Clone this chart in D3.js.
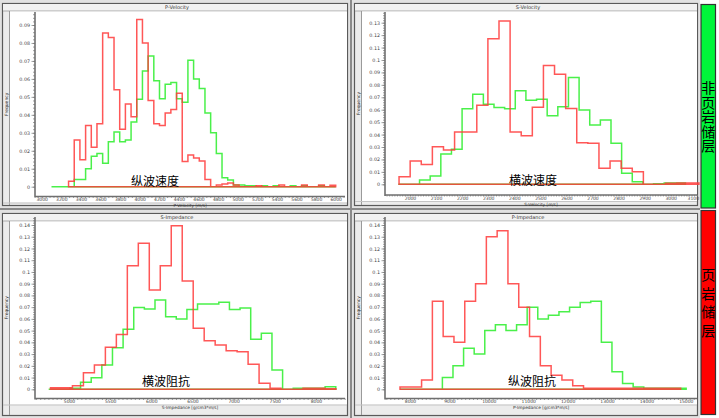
<!DOCTYPE html>
<html><head><meta charset="utf-8">
<script src="https://cdn.jsdelivr.net/npm/d3@7/dist/d3.min.js"></script>
<style>body{margin:0;background:#fff;}svg{display:block;}</style>
</head><body>
<svg id="chart" width="719" height="418"></svg>
<script>
// ---------------- DATA ----------------
// P-Velocity (纵波速度)
const pvelXTicks = [3000,3200,3400,3600,3800,4000,4200,4400,4600,4800,5000,5200,5400,5600,5800,6000];
const pvelYTicks = [0,0.01,0.02,0.03,0.04,0.05,0.06,0.07,0.08,0.09];
const pvelNonStart = 3100, pvelNonWidth = 58;
const pvelNon = [0,0,0,0,0.004,0.004,0.010,0.017,0.0185,0.013,0.025,0.0305,0.025,0.026,0.036,0.0487,0.0644,0.0728,0.059,0.049,0.057,0.058,0.049,0.047,0.0704,0.060,0.0547,0.041,0.030,0.0185,0.005,0.0037,0.001,0.001,0.0005,0.0005,0,0.0005,0,0.0005,0,0,0.0005,0,0.0005,0,0,0.0005,0,0];
const pvelShaleStart = 3274, pvelShaleWidth = 58;
const pvelShale = [0.003,0.026,0.015,0.034,0.022,0.035,0.0855,0.083,0.054,0.032,0.046,0.039,0.093,0.080,0.048,0.035,0.034,0.041,0.043,0.052,0.014,0.0176,0.016,0.0143,0.004,0,0.001,0.0015,0.002,0.001,0,0,0,0.0005,0,0,0,0.001,0,0,0,0.001,0,0,0.001,0,0.0008];

// S-Velocity (横波速度)
const svelXTicks = [2000,2100,2200,2300,2400,2500,2600,2700,2800,2900,3000,3100];
const svelYTicks = [0,0.01,0.02,0.03,0.04,0.05,0.06,0.07,0.08,0.09,0.1,0.11,0.12,0.13];
const svelNonStart = 1955, svelNonWidth = 40.8;
const svelNon = [0,0,0.0035,0.0067,0.0244,0.0282,0.0607,0.0724,0.0644,0.0617,0.0607,0.0753,0.0676,0.0684,0.0552,0.0623,0.086,0.0598,0.0477,0.0517,0.033,0.0089,0.0021,0,0.0005,0.001,0.001];
const svelShaleStart = 1958, svelShaleWidth = 42.6;
const svelShale = [0.0061,0.0187,0.016,0.0302,0.0276,0.042,0.042,0.0635,0.117,0.1314,0.042,0.039,0.062,0.0955,0.0885,0.061,0.0335,0.033,0.0129,0.0187,0.0129,0.0101,0,0,0.0008,0.001,0.001];

// S-Impedance (横波阻抗)
const simpXTicks = [5000,5500,6000,6500,7000,7500,8000];
const simpYTicks = [0,0.01,0.02,0.03,0.04,0.05,0.06,0.07,0.08,0.09,0.1,0.11,0.12,0.13,0.14];
const simpNonStart = 4753, simpNonWidth = 129.2;
const simpNon = [0,0,0.0009,0.006,0.0099,0.0207,0.0354,0.0511,0.0698,0.0684,0.076,0.0618,0.060,0.068,0.0727,0.0727,0.0741,0.068,0.0693,0.0426,0.0477,0.0164,0,0.0008,0.0008,0.0008,0.0022];
const simpShaleStart = 4775, simpShaleWidth = 133.4;
const simpShale = [0.0014,0.0014,0.003,0.0141,0.0207,0.0358,0.0468,0.1053,0.1244,0.0846,0.1053,0.1394,0.0922,0.052,0.0414,0.0377,0.0329,0.032,0.0213,0.0051,0.0009,0,0,0.001,0.001,0.0005];

// P-Impedance (纵波阻抗)
const pimpXTicks = [8000,9000,10000,11000,12000,13000,14000,15000];
const pimpYTicks = [0,0.01,0.02,0.03,0.04,0.05,0.06,0.07,0.08,0.09,0.1,0.11,0.12,0.13,0.14];
const pimpNonStart = 7746, pimpNonWidth = 269;
const pimpNon = [0,0,0,0,0.01,0.02,0.035,0.03,0.05,0.055,0.05,0.055,0.07,0.06,0.063,0.066,0.07,0.074,0.075,0.04,0.015,0.005,0.002,0.001,0.001,0.001,0.001];
const pimpShaleStart = 7746, pimpShaleWidth = 274;
const pimpShale = [0.002,0.002,0.008,0.075,0.045,0.04,0.075,0.09,0.13,0.135,0.09,0.07,0.045,0.02,0.012,0.008,0.003,0.001,0.001,0.001,0.001,0.001,0.001,0.001,0.001,0.001];

const legendLabels = ["非页岩储层","页岩储层"];
const legendColors = ["#00f53a","#ff0000"];

// ---------------- LAYOUT ----------------
const svg = d3.select("#chart");
const GREEN = "#36ee36", RED = "#ff3a3a";

const panels = [
  {box:[0,0,350,208], title:"P-Velocity", xTitle:"P-Velocity [m/s]", cn:"纵波速度", cnX:155, cnY:186,
   axisX:35, axisEnd:345, rulerY:196.5, top:12, xd:[3000,6000], xr:[41.7,335.7], yd:[0,0.09], yr:[186.7,25],
   xt:pvelXTicks, yt:pvelYTicks, xMinor:40, yMinor:0.002,
   non:[pvelNonStart,pvelNonWidth,pvelNon], shale:[pvelShaleStart,pvelShaleWidth,pvelShale]},
  {box:[352,0,700,208], title:"S-Velocity", xTitle:"S-Velocity [m/s]", cn:"横波速度", cnX:533, cnY:185,
   axisX:385, axisEnd:697, rulerY:195, top:12, xd:[2000,3000], xr:[410,670.7], yd:[0,0.13], yr:[184.3,22.7],
   xt:svelXTicks, yt:svelYTicks, xMinor:10, yMinor:0.002,
   non:[svelNonStart,svelNonWidth,svelNon], shale:[svelShaleStart,svelShaleWidth,svelShale]},
  {box:[0,210,350,418], title:"S-Impedance", xTitle:"S-Impedance [g/cm3*m/s]", cn:"横波阻抗", cnX:166, cnY:386,
   axisX:35, axisEnd:345, rulerY:398.5, top:217, xd:[5000,8000], xr:[69,315.9], yd:[0,0.14], yr:[389.3,225],
   xt:simpXTicks, yt:simpYTicks, xMinor:50, yMinor:0.002,
   non:[simpNonStart,simpNonWidth,simpNon], shale:[simpShaleStart,simpShaleWidth,simpShale]},
  {box:[352,210,700,418], title:"P-Impedance", xTitle:"P-Impedance [g/cm3*m/s]", cn:"纵波阻抗", cnX:532, cnY:386,
   axisX:385, axisEnd:697, rulerY:398.5, top:217, xd:[8000,15000], xr:[410,685.8], yd:[0,0.14], yr:[389.3,225],
   xt:pimpXTicks, yt:pimpYTicks, xMinor:100, yMinor:0.002,
   non:[pimpNonStart,pimpNonWidth,pimpNon], shale:[pimpShaleStart,pimpShaleWidth,pimpShale]}
];

function stepPath(start, width, freqs, x, y) {
  const p = d3.path();
  const y0 = y(0);
  p.moveTo(x(start), y0);
  freqs.forEach((f, i) => {
    const a = x(start + i*width), b = x(start + (i+1)*width);
    p.lineTo(a, y(f));
    p.lineTo(b, y(f));
  });
  p.lineTo(x(start + freqs.length*width), y0);
  p.closePath();
  return p.toString();
}

panels.forEach(P => {
  const [x0,y0,x1,y1] = P.box;
  const g = svg.append("g");
  g.append("rect").attr("x",x0).attr("y",y0).attr("width",x1-x0).attr("height",y1-y0).attr("fill","#e2e2e2");
  g.append("rect").attr("x",x0+2.5).attr("y",y0+3.5).attr("width",x1-x0-5).attr("height",y1-y0-6).attr("fill","#ececec").attr("stroke","#5a5a5a").attr("stroke-width",1.2);
  g.append("rect").attr("x",x0+3).attr("y",y0+4).attr("width",x1-x0-6).attr("height",7).attr("fill","#f2f2f2");
  g.append("line").attr("x1",x0+3).attr("x2",x1-3).attr("y1",y0+11).attr("y2",y0+11).attr("stroke","#aaa");
  g.append("text").attr("x",(x0+x1)/2+2).attr("y",y0+9.3).attr("text-anchor","middle")
    .attr("font-family","DejaVu Sans").attr("font-size",5).attr("fill","#333").text(P.title);
  g.append("rect").attr("x",x0+10).attr("y",y0+11.5).attr("width",x1-x0-13).attr("height",P.rulerY-y0-11.5+6).attr("fill","#fff");
  g.append("line").attr("x1",x0+9.5).attr("x2",x0+9.5).attr("y1",y0+11).attr("y2",y1-3).attr("stroke","#9a9a9a");
  g.append("line").attr("x1",x0+3).attr("x2",x1-3).attr("y1",P.rulerY+6.5).attr("y2",P.rulerY+6.5).attr("stroke","#c4c4c4");
  const ymid = (P.top + P.rulerY)/2;
  g.append("text").attr("transform",`translate(${x0+7.5},${ymid}) rotate(-90)`).attr("text-anchor","middle")
    .attr("font-family","DejaVu Sans").attr("font-size",4.5).attr("fill","#333").text("Frequency");

  const x = d3.scaleLinear().domain(P.xd).range(P.xr);
  const y = d3.scaleLinear().domain(P.yd).range(P.yr);
  const yAtTop = y.invert(P.top), xAtEnd = x.invert(P.axisEnd), xAtStart = x.invert(P.axisX);

  g.append("path").attr("d", stepPath(P.non[0],P.non[1],P.non[2],x,y))
    .attr("fill","none").attr("stroke",GREEN).attr("stroke-width",1.5).attr("stroke-opacity",0.9);
  g.append("path").attr("d", stepPath(P.shale[0],P.shale[1],P.shale[2],x,y))
    .attr("fill","none").attr("stroke",RED).attr("stroke-width",1.5).attr("stroke-opacity",0.85);

  const yMinorTicks = d3.range(0, yAtTop, P.yMinor);
  const yMinorAxis = d3.axisLeft(y).tickValues(yMinorTicks).tickSize(2).tickFormat("");
  const yMajorAxis = d3.axisLeft(y).tickValues(P.yt).tickSize(3.5).tickPadding(1.5)
    .tickFormat(d => String(+d.toFixed(3)));
  const ga1 = g.append("g").attr("transform",`translate(${P.axisX},0)`).call(yMinorAxis);
  const ga2 = g.append("g").attr("transform",`translate(${P.axisX},0)`).call(yMajorAxis);
  [ga1,ga2].forEach(a => { a.select(".domain").remove(); a.selectAll("line").attr("stroke","#777").attr("stroke-width",0.7); });
  ga2.selectAll("text").attr("font-family","DejaVu Sans").attr("font-size",4.8).attr("fill","#444");
  g.append("line").attr("x1",P.axisX).attr("x2",P.axisX).attr("y1",P.top).attr("y2",P.rulerY+1).attr("stroke","#6f6f6f").attr("stroke-width",1.6);

  const xMinorTicks = d3.range(Math.ceil(xAtStart/P.xMinor)*P.xMinor, xAtEnd, P.xMinor);
  const xMinorAxis = d3.axisBottom(x).tickValues(xMinorTicks).tickSize(1.5).tickFormat("");
  const xMajorAxis = d3.axisBottom(x).tickValues(P.xt).tickSize(1.2).tickPadding(0.2)
    .tickFormat(d => String(d));
  const gb1 = g.append("g").attr("transform",`translate(0,${P.rulerY})`).call(xMinorAxis);
  const gb2 = g.append("g").attr("transform",`translate(0,${P.rulerY})`).call(xMajorAxis);
  [gb1,gb2].forEach(a => { a.select(".domain").remove(); a.selectAll("line").attr("stroke","#777").attr("stroke-width",0.7); });
  gb2.selectAll("text").attr("font-family","DejaVu Sans").attr("font-size",4.5).attr("fill","#444")
    .attr("dx", d => (x(d) > P.axisEnd - 6 ? -4 : 0));
  g.append("line").attr("x1",P.axisX).attr("x2",P.axisEnd).attr("y1",P.rulerY).attr("y2",P.rulerY).attr("stroke","#6f6f6f").attr("stroke-width",1.6);

  g.append("text").attr("x",(P.axisX+P.axisEnd)/2).attr("y",P.rulerY+10.8).attr("text-anchor","middle")
    .attr("font-family","DejaVu Sans").attr("font-size",4.3).attr("fill","#333").text(P.xTitle);

  g.append("text").attr("x",P.cnX).attr("y",P.cnY).attr("text-anchor","middle")
    .attr("font-family","Noto Sans CJK SC").attr("font-size",12).attr("fill","#000").text(P.cn);
});

svg.append("rect").attr("x",350).attr("y",0).attr("width",2).attr("height",418).attr("fill","#8a8a8a");
svg.append("rect").attr("x",0).attr("y",208).attr("width",700).attr("height",2).attr("fill","#8a8a8a");

// legend bars, vertical text as single text elements
const legendBoxes = [[701,4.5,14.5,203.5],[701,210.5,14.5,204]];
const legendTextTop = [81, 268];
const legendSpacing = [0.5, 4.5];
legendLabels.forEach((lab,i) => {
  const [lx,ly,lw,lh] = legendBoxes[i];
  svg.append("rect").attr("x",lx).attr("y",ly).attr("width",lw).attr("height",lh)
    .attr("fill",legendColors[i]).attr("stroke","#333").attr("stroke-width",1.2);
  svg.append("text").attr("x",lx+lw/2).attr("y",legendTextTop[i])
    .attr("style",`writing-mode: vertical-rl; letter-spacing:${legendSpacing[i]}px`)
    .attr("font-family","Noto Sans CJK SC").attr("font-size",14).attr("fill","#000").text(lab);
});
</script>
</body></html>
